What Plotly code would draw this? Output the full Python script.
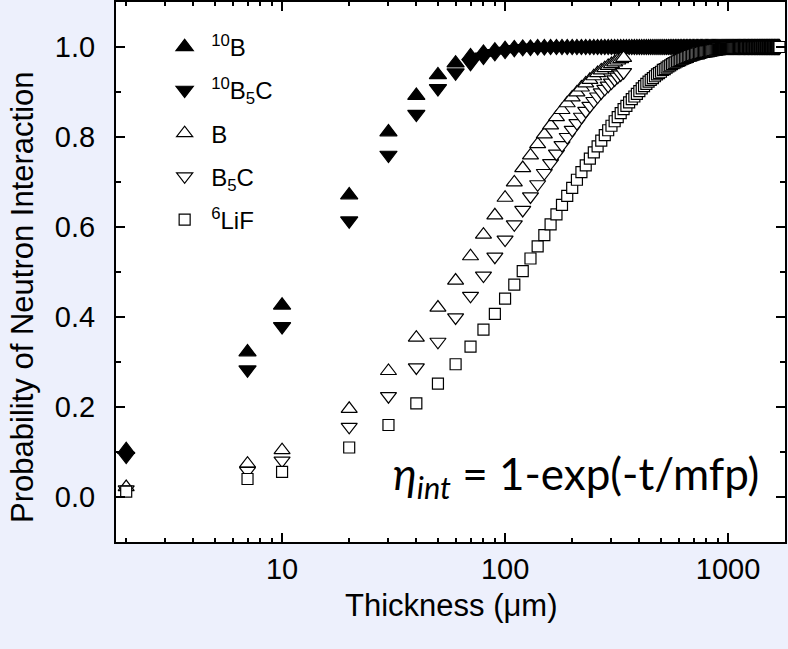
import plotly.graph_objects as go

# ---------------- data ----------------
THICKNESS_LONG = [
    2, 7, 10, 20, 30, 40, 50, 60, 70, 80, 90, 100,
    110, 120, 130, 140, 150, 160, 170, 180, 190, 200,
    210, 220, 230, 240, 250, 260, 270, 280, 290, 300,
    310, 320, 330, 340, 350, 360, 370, 380, 390, 400,
    410, 420, 430, 440, 450, 460, 470, 480, 490, 500,
    510, 520, 530, 540, 550, 560, 570, 580, 590, 600,
    610, 620, 630, 640, 650, 660, 670, 680, 690, 700,
    710, 720, 730, 740, 750, 760, 770, 780, 790, 800,
    810, 820, 830, 840, 850, 860, 870, 880, 890, 900,
    910, 920, 930, 940, 950, 960, 970, 980, 990, 1000,
    1010, 1020, 1030, 1040, 1050, 1060, 1070, 1080, 1090, 1100,
    1110, 1120, 1130, 1140, 1150, 1160, 1170, 1180, 1190, 1200,
    1210, 1220, 1230, 1240, 1250, 1260, 1270, 1280, 1290, 1300,
    1310, 1320, 1330, 1340, 1350, 1360, 1370, 1380, 1390, 1400,
    1410, 1420, 1430, 1440, 1450, 1460, 1470, 1480, 1490, 1500,
    1510, 1520, 1530, 1540, 1550, 1560, 1570, 1580, 1590, 1600,
    1610, 1620, 1630, 1640, 1650, 1660, 1670, 1680, 1690, 1700,
]

THICKNESS_SHORT = [
    2, 7, 10, 20, 30, 40, 50, 60, 70, 80, 90, 100,
    110, 120, 130, 140, 150, 160, 170, 180, 190, 200,
    210, 220, 230, 240, 250, 260, 270, 280, 290, 300,
    310, 320, 330, 340,
]

P_10B = [
    0.105, 0.322, 0.426, 0.671, 0.811, 0.892, 0.938, 0.964, 0.980, 0.988, 0.993, 0.996,
    0.998, 0.999, 0.999, 1.0, 1.0, 1.0, 1.0, 1.0, 1.0, 1.0,
    1.0, 1.0, 1.0, 1.0, 1.0, 1.0, 1.0, 1.0, 1.0, 1.0,
    1.0, 1.0, 1.0, 1.0, 1.0, 1.0, 1.0, 1.0, 1.0, 1.0,
    1.0, 1.0, 1.0, 1.0, 1.0, 1.0, 1.0, 1.0, 1.0, 1.0,
    1.0, 1.0, 1.0, 1.0, 1.0, 1.0, 1.0, 1.0, 1.0, 1.0,
    1.0, 1.0, 1.0, 1.0, 1.0, 1.0, 1.0, 1.0, 1.0, 1.0,
    1.0, 1.0, 1.0, 1.0, 1.0, 1.0, 1.0, 1.0, 1.0, 1.0,
    1.0, 1.0, 1.0, 1.0, 1.0, 1.0, 1.0, 1.0, 1.0, 1.0,
    1.0, 1.0, 1.0, 1.0, 1.0, 1.0, 1.0, 1.0, 1.0, 1.0,
    1.0, 1.0, 1.0, 1.0, 1.0, 1.0, 1.0, 1.0, 1.0, 1.0,
    1.0, 1.0, 1.0, 1.0, 1.0, 1.0, 1.0, 1.0, 1.0, 1.0,
    1.0, 1.0, 1.0, 1.0, 1.0, 1.0, 1.0, 1.0, 1.0, 1.0,
    1.0, 1.0, 1.0, 1.0, 1.0, 1.0, 1.0, 1.0, 1.0, 1.0,
    1.0, 1.0, 1.0, 1.0, 1.0, 1.0, 1.0, 1.0, 1.0, 1.0,
    1.0, 1.0, 1.0, 1.0, 1.0, 1.0, 1.0, 1.0, 1.0, 1.0,
    1.0, 1.0, 1.0, 1.0, 1.0, 1.0, 1.0, 1.0, 1.0, 1.0,
]

P_10B5C = [
    0.091, 0.283, 0.379, 0.614, 0.760, 0.851, 0.908, 0.943, 0.964, 0.978, 0.986, 0.991,
    0.995, 0.997, 0.998, 0.999, 0.999, 1.0, 1.0, 1.0, 1.0, 1.0,
    1.0, 1.0, 1.0, 1.0, 1.0, 1.0, 1.0, 1.0, 1.0, 1.0,
    1.0, 1.0, 1.0, 1.0, 1.0, 1.0, 1.0, 1.0, 1.0, 1.0,
    1.0, 1.0, 1.0, 1.0, 1.0, 1.0, 1.0, 1.0, 1.0, 1.0,
    1.0, 1.0, 1.0, 1.0, 1.0, 1.0, 1.0, 1.0, 1.0, 1.0,
    1.0, 1.0, 1.0, 1.0, 1.0, 1.0, 1.0, 1.0, 1.0, 1.0,
    1.0, 1.0, 1.0, 1.0, 1.0, 1.0, 1.0, 1.0, 1.0, 1.0,
    1.0, 1.0, 1.0, 1.0, 1.0, 1.0, 1.0, 1.0, 1.0, 1.0,
    1.0, 1.0, 1.0, 1.0, 1.0, 1.0, 1.0, 1.0, 1.0, 1.0,
    1.0, 1.0, 1.0, 1.0, 1.0, 1.0, 1.0, 1.0, 1.0, 1.0,
    1.0, 1.0, 1.0, 1.0, 1.0, 1.0, 1.0, 1.0, 1.0, 1.0,
    1.0, 1.0, 1.0, 1.0, 1.0, 1.0, 1.0, 1.0, 1.0, 1.0,
    1.0, 1.0, 1.0, 1.0, 1.0, 1.0, 1.0, 1.0, 1.0, 1.0,
    1.0, 1.0, 1.0, 1.0, 1.0, 1.0, 1.0, 1.0, 1.0, 1.0,
    1.0, 1.0, 1.0, 1.0, 1.0, 1.0, 1.0, 1.0, 1.0, 1.0,
    1.0, 1.0, 1.0, 1.0, 1.0, 1.0, 1.0, 1.0, 1.0, 1.0,
]

P_B = [
    0.022, 0.074, 0.104, 0.196, 0.280, 0.354, 0.421, 0.481, 0.535, 0.583, 0.626, 0.665,
    0.699, 0.731, 0.759, 0.784, 0.806, 0.826, 0.844, 0.860, 0.875, 0.888,
    0.899, 0.910, 0.919, 0.927, 0.935, 0.942, 0.948, 0.953, 0.958, 0.962,
    0.966, 0.970, 0.973, 0.976,
]

P_B5C = [
    0.017, 0.058, 0.081, 0.156, 0.224, 0.288, 0.345, 0.399, 0.447, 0.492, 0.534, 0.572,
    0.606, 0.638, 0.668, 0.695, 0.720, 0.742, 0.763, 0.782, 0.800, 0.816,
    0.831, 0.845, 0.858, 0.869, 0.880, 0.890, 0.899, 0.907, 0.914, 0.921,
    0.928, 0.934, 0.939, 0.944,
]

P_6LIF = [
    0.012, 0.040, 0.056, 0.110, 0.160, 0.208, 0.252, 0.295, 0.334, 0.372, 0.407, 0.441,
    0.472, 0.502, 0.530, 0.557, 0.582, 0.606, 0.628, 0.649, 0.669, 0.687,
    0.705, 0.722, 0.737, 0.752, 0.766, 0.779, 0.792, 0.804, 0.815, 0.825,
    0.835, 0.844, 0.853, 0.862, 0.869, 0.877, 0.884, 0.890, 0.896, 0.902,
    0.908, 0.913, 0.918, 0.923, 0.927, 0.931, 0.935, 0.939, 0.942, 0.945,
    0.949, 0.951, 0.954, 0.957, 0.959, 0.962, 0.964, 0.966, 0.968, 0.969,
    0.971, 0.973, 0.974, 0.976, 0.977, 0.978, 0.980, 0.981, 0.982, 0.983,
    0.984, 0.985, 0.986, 0.986, 0.987, 0.988, 0.989, 0.989, 0.990, 0.990,
    0.991, 0.991, 0.992, 0.992, 0.993, 0.993, 0.994, 0.994, 0.994, 0.995,
    0.995, 0.995, 0.996, 0.996, 0.996, 0.996, 0.996, 0.997, 0.997, 0.997,
    0.997, 0.997, 0.997, 0.998, 0.998, 0.998, 0.998, 0.998, 0.998, 0.998,
    0.998, 0.999, 0.999, 0.999, 0.999, 0.999, 0.999, 0.999, 0.999, 0.999,
    0.999, 0.999, 0.999, 0.999, 0.999, 0.999, 0.999, 0.999, 0.999, 0.999,
    0.999, 0.999, 0.999, 0.999, 0.999, 0.999, 0.999, 0.999, 0.999, 1.0,
    1.0, 1.0, 1.0, 1.0, 1.0, 1.0, 1.0, 1.0, 1.0, 1.0,
    1.0, 1.0, 1.0, 1.0, 1.0, 1.0, 1.0, 1.0, 1.0, 1.0,
    1.0, 1.0, 1.0, 1.0, 1.0, 1.0, 1.0, 1.0, 1.0, 1.0,
]

SERIES_NAMES = ["<sup>10</sup>B", "<sup>10</sup>B<sub>5</sub>C", "B",
                "B<sub>5</sub>C", "<sup>6</sup>LiF"]

X_TICKS = [10, 100, 1000]
X_MINOR = [2, 3, 4, 5, 6, 7, 8, 9, 20, 30, 40, 50, 60, 70, 80, 90,
           200, 300, 400, 500, 600, 700, 800, 900]
Y_TICKS = [0.0, 0.2, 0.4, 0.6, 0.8, 1.0]
Y_TICK_LABELS = ["0.0", "0.2", "0.4", "0.6", "0.8", "1.0"]

X_TITLE = "Thickness (\u03bcm)"
Y_TITLE = "Probability of Neutron Interaction"
FORMULA = "<i>\u03b7<sub>int</sub></i> = 1-exp(-t/mfp)"

# ---------------- figure ----------------
FONT = "Liberation Sans"
BG = "#edf0fc"

fig = go.Figure()

styles = [
    (THICKNESS_LONG, P_10B, "triangle-up", "black", 15),
    (THICKNESS_LONG, P_10B5C, "triangle-down", "black", 15),
    (THICKNESS_SHORT, P_B, "triangle-up", "white", 14),
    (THICKNESS_SHORT, P_B5C, "triangle-down", "white", 14),
    (THICKNESS_LONG, P_6LIF, "square", "white", 11),
]

for i, (xs, ys, sym, fill, size) in enumerate(styles):
    fig.add_trace(go.Scatter(
        x=xs, y=ys, mode="markers", name=SERIES_NAMES[i],
        legendgroup=f"g{i}",
        marker=dict(symbol=sym, size=size, color=fill,
                    line=dict(color="black", width=1.2)),
    ))

# formula label
fig.add_annotation(
    x=1.0, y=0.0, xref="paper", yref="paper",
    xanchor="right", yanchor="bottom", xshift=-24, yshift=34,
    text=FORMULA, showarrow=False,
    font=dict(family="Lato", size=44, color="black"),
)
# axis titles
fig.add_annotation(
    x=0.0, y=0.452, xref="paper", yref="paper",
    xanchor="center", yanchor="middle", xshift=-93,
    text=Y_TITLE, textangle=-90, showarrow=False,
    font=dict(family=FONT, size=31, color="black"),
)
fig.add_annotation(
    x=0.502, y=-0.1167, xref="paper", yref="paper",
    xanchor="center", yanchor="middle",
    text=X_TITLE, showarrow=False,
    font=dict(family=FONT, size=31, color="black"),
)

fig.update_layout(
    width=788, height=649,
    margin=dict(l=116, r=3, t=2, b=107),
    paper_bgcolor=BG,
    plot_bgcolor="white",
    font=dict(family=FONT, color="black"),
    showlegend=True,
    legend=dict(
        x=0.063, y=0.958, xanchor="left", yanchor="top",
        bgcolor="rgba(0,0,0,0)",
        font=dict(family=FONT, size=24, color="black"),
        tracegroupgap=9,
        itemsizing="trace",
        itemwidth=43,
    ),
    xaxis=dict(
        type="log",
        range=[0.2553, 3.2553],
        tickvals=X_TICKS,
        ticktext=[str(v) for v in X_TICKS],
        ticks="inside", ticklen=9, tickwidth=1.5, tickcolor="black",
        minor=dict(tickvals=X_MINOR, ticks="inside", ticklen=4,
                   tickwidth=1.5, tickcolor="black"),
        showline=True, linecolor="black", linewidth=2,
        mirror="allticks",
        showgrid=False, zeroline=False,
        tickfont=dict(family=FONT, size=29),
        automargin=False,
    ),
    yaxis=dict(
        range=[-0.1, 1.1],
        tickvals=Y_TICKS,
        ticktext=Y_TICK_LABELS,
        ticks="inside", ticklen=9, tickwidth=1.5, tickcolor="black",
        minor=dict(dtick=0.1, ticks="inside", ticklen=5,
                   tickwidth=1.5, tickcolor="black"),
        showline=True, linecolor="black", linewidth=2,
        mirror="allticks",
        showgrid=False, zeroline=False,
        tickfont=dict(family=FONT, size=29),
        ticklabelstandoff=13,
        automargin=False,
    ),
)

fig.write_html(
    "out.html",
    config={"displayModeBar": False},
    post_script=(
        "document.body.style.margin='0px';"
        "document.body.style.background='" + BG + "';"
    ),
)
